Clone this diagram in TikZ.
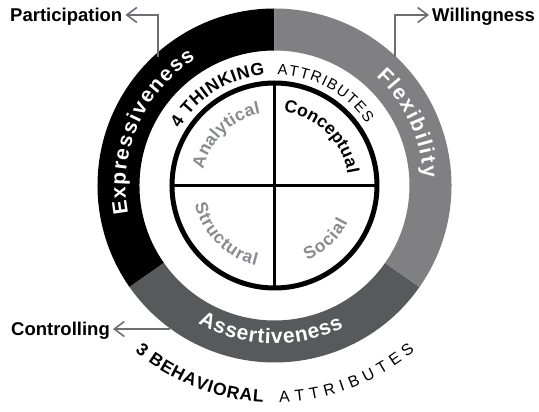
\documentclass[tikz,border=0pt]{standalone}
\usepackage{fontspec}
\setmainfont{Liberation Sans}
\usetikzlibrary{decorations.text,arrows.meta}
\definecolor{flexgrey}{HTML}{808083}
\definecolor{assertgrey}{HTML}{58595B}
\definecolor{arrowgrey}{HTML}{6D6E71}
\definecolor{quadgrey}{HTML}{898A8D}
\newcommand\ringfnt{\fontsize{21}{22}\selectfont\bfseries\color{white}}
\newcommand\quadfnt{\fontsize{17.5}{19}\selectfont\bfseries\color{quadgrey}}
\newcommand\quadblk{\fontsize{17.5}{19}\selectfont\bfseries\color{black}}
\newcommand\headfnt{\fontsize{17.5}{19}\selectfont\bfseries}
\newcommand\thinfnt{\fontsize{15}{17}\selectfont}
\newcommand\thinfntb{\fontsize{16}{18}\selectfont}
\tikzset{
  arctext/.style={decorate, decoration={text along path, text align=fit to path, text={#1}}},
  lab/.style={font=\fontsize{18.5}{20}\selectfont\bfseries, inner sep=0pt, text height=13pt, text depth=0pt},
  callout/.style={draw=arrowgrey, line width=1.6pt, -{Straight Barb[length=10pt,width=15pt]}, shorten >=3pt},
}
\begin{document}
\begin{tikzpicture}[x=1pt,y=1pt]
\useasboundingbox (-274.5,-226.5) rectangle (264.5,185.5);
% outer ring
\fill[black] (90:177) arc[start angle=90,end angle=215,radius=177] -- (215:135) arc[start angle=215,end angle=90,radius=135] -- cycle;
\fill[assertgrey] (215:177) arc[start angle=215,end angle=325,radius=177] -- (325:135) arc[start angle=325,end angle=215,radius=135] -- cycle;
\fill[flexgrey] (-35:177) arc[start angle=-35,end angle=90,radius=177] -- (90:135) arc[start angle=90,end angle=-35,radius=135] -- cycle;
% inner circle
\draw[line width=5pt] (0,0) circle[radius=102.5];
\draw[line width=2.6pt] (0,-102.5) -- (0,102.5);
\draw[line width=2.6pt] (-102.5,0) -- (102.5,0);
% ring words
\path[arctext={|\ringfnt|Expressiveness}] (191:149) arc[start angle=191,end angle=122,radius=149];
\path[arctext={|\ringfnt|Flexibility}] (47:149) arc[start angle=47,end angle=3,radius=149];
\path[arctext={|\ringfnt|Assertiveness}] (241:158) arc[start angle=241,end angle=296,radius=158];
% quadrant words
\path[arctext={|\quadfnt|Analytical}] (167:73) arc[start angle=167,end angle=101,radius=73];
\path[arctext={|\quadblk|Conceptual}] (83:74) arc[start angle=83,end angle=9,radius=74];
\path[arctext={|\quadfnt|Structural}] (193.5:82) arc[start angle=193.5,end angle=257,radius=82];
\path[arctext={|\quadfnt|Social}] (293.5:82) arc[start angle=293.5,end angle=333.5,radius=82];
% headings
\path[arctext={|\headfnt|4 THINKING}] (149:111) arc[start angle=149,end angle=95,radius=111];
\path[arctext={|\thinfnt|ATTRIBUTES}] (88.5:111) arc[start angle=88.5,end angle=34,radius=111];
\path[arctext={|\headfnt|3 BEHAVIORAL}] (230:217) arc[start angle=230,end angle=267,radius=217];
\path[arctext={|\thinfntb|ATTRIBUTES}] (271.3:217) arc[start angle=271.3,end angle=310.3,radius=217];
% callouts
\node[lab, anchor=east] (part) at (-152,170.5) {Participation};
\node[lab, anchor=west] (will) at (157.5,170.5) {Willingness};
\node[lab, anchor=east] (ctrl) at (-164.5,-143.5) {Controlling};
\coordinate (pstart) at (-116.5,128);
\coordinate (wstart) at (120.5,128);
\coordinate (cstart) at (-104.5,-143.5);
\draw[callout] (pstart) |- (part.east);
\draw[callout] (wstart) |- (will.west);
\draw[callout] (cstart) -- (ctrl.east);
\end{tikzpicture}
\end{document}
